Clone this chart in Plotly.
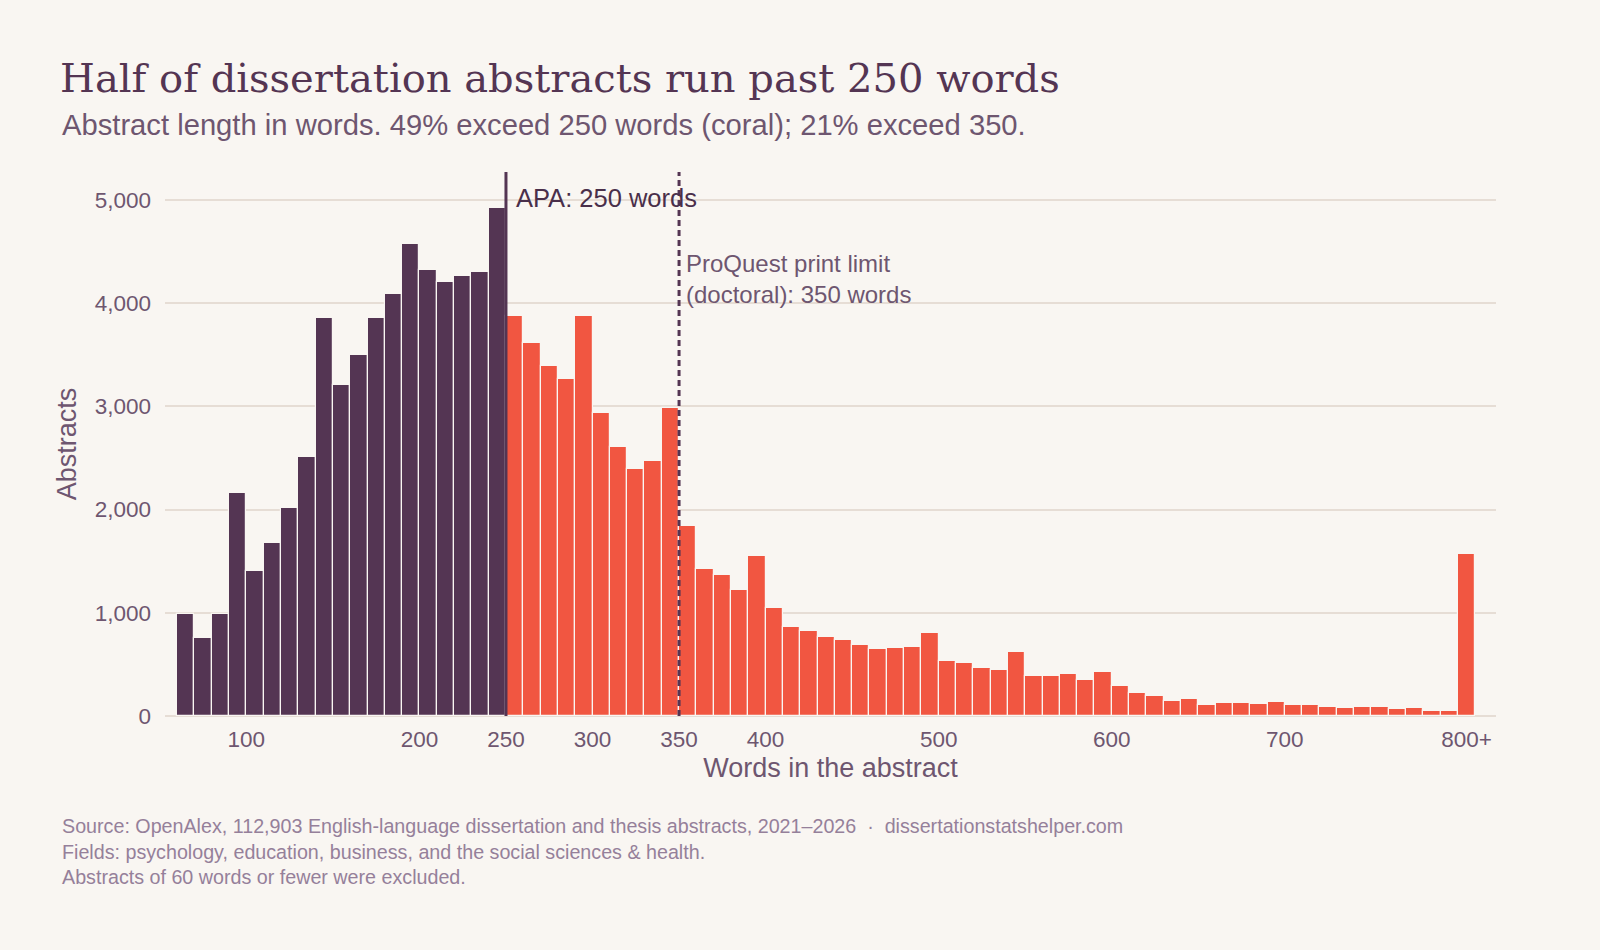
import plotly.graph_objects as go

# histogram of abstract length, bins of 10 words starting at 60 (last bin = 800+)
bin_start = list(range(60, 810, 10))
counts = [990, 754, 984, 2158, 1400, 1675, 2016, 2507, 3853, 3210,
          3495, 3853, 4090, 4574, 4317, 4205, 4259, 4300, 4922,   # 60-240
          3873, 3616, 3390, 3265, 3873, 2933, 2602, 2395, 2470, 2980,  # 250-340
          1844, 1428, 1370, 1221, 1553, 1049, 859, 822, 765, 737,      # 350-440
          690, 653, 658, 668, 800, 535, 516, 468, 449, 620,            # 450-540
          392, 392, 411, 345, 430, 288, 222, 193, 146, 165,            # 550-640
          108, 127, 127, 117, 136, 108, 108, 89, 79, 89,               # 650-740
          89, 70, 79, 51, 51, 1570]                                    # 750-800+

tick_vals = [100, 200, 250, 300, 350, 400, 500, 600, 700, 805]
tick_text = ["100", "200", "250", "300", "350", "400", "500", "600", "700", "800+"]

BG = "#f9f6f2"
DARK = "#543553"
CORAL = "#f15641"
GRID = "#e6ddd5"
TXT = "#6e5670"
FOOT = "#95809a"
SANS = "Liberation Sans, Arial, sans-serif"

colors = [DARK if b < 250 else CORAL for b in bin_start]
centers = [b + 5 for b in bin_start]

fig = go.Figure()
fig.add_trace(go.Bar(x=centers, y=counts, width=10, marker_color=colors,
                     marker_line_color=BG, marker_line_width=1.2,
                     hovertemplate="%{x}: %{y:,}<extra></extra>"))

# APA and ProQuest reference lines
fig.add_shape(type="line", x0=250, x1=250, y0=0, y1=1, yref="paper",
              line=dict(color=DARK, width=3))
fig.add_shape(type="line", x0=350, x1=350, y0=0, y1=1, yref="paper",
              line=dict(color=DARK, width=3, dash="6px,4px"))

fig.add_annotation(x=250, xshift=8, y=5020, text="APA: 250 words", showarrow=False,
                   xanchor="left", yanchor="middle",
                   font=dict(family=SANS, size=25.5, color="#4a2f4a"))
fig.add_annotation(x=350, xshift=5, y=4235, text="ProQuest print limit<br>(doctoral): 350 words",
                   showarrow=False, xanchor="left", yanchor="middle", align="left",
                   font=dict(family=SANS, size=24, color=TXT))

# subtitle + footer
fig.add_annotation(xref="paper", yref="paper", x=-0.0789, y=1.0, yshift=47,
                   text="Abstract length in words. 49% exceed 250 words (coral); 21% exceed 350.",
                   showarrow=False, xanchor="left", yanchor="middle",
                   font=dict(family=SANS, size=29.2, color=TXT))
fig.add_annotation(xref="paper", yref="paper", x=-0.0789, y=0, yshift=-135,
                   text="Source: OpenAlex, 112,903 English-language dissertation and thesis abstracts, 2021\u20132026  \u00b7  dissertationstatshelper.com"
                        "<br>Fields: psychology, education, business, and the social sciences & health."
                        "<br>Abstracts of 60 words or fewer were excluded.",
                   showarrow=False, xanchor="left", yanchor="middle", align="left",
                   font=dict(family=SANS, size=19.7, color=FOOT))

fig.update_layout(
    width=1600, height=950,
    paper_bgcolor=BG, plot_bgcolor=BG,
    margin=dict(l=165, r=104, t=172, b=234),
    showlegend=False, bargap=0,
    title=dict(text="Half of dissertation abstracts run past 250 words",
               x=60 / 1600, xanchor="left", xref="container",
               y=1 - 78 / 950, yanchor="middle", yref="container",
               font=dict(family="DejaVu Serif, Georgia, serif", size=40, color=DARK)),
    xaxis=dict(range=[53, 822], tickvals=tick_vals, ticktext=tick_text,
               showgrid=False, zeroline=False, showline=False, ticks="",
               ticklabelstandoff=7,
               tickfont=dict(family=SANS, size=22.5, color=TXT),
               title=dict(text="Words in the abstract", standoff=7,
                          font=dict(family=SANS, size=27, color=TXT))),
    yaxis=dict(range=[0, 5270], tickvals=[0, 1000, 2000, 3000, 4000, 5000],
               tickformat=",", showgrid=True, gridcolor=GRID, gridwidth=2,
               zeroline=True, zerolinecolor=GRID, zerolinewidth=2,
               showline=False, ticks="", ticklabelstandoff=13,
               tickfont=dict(family=SANS, size=22.5, color=TXT),
               title=dict(text="Abstracts", standoff=10,
                          font=dict(family=SANS, size=27, color=TXT))),
)

fig.write_html("out.html", config={"displayModeBar": False},
               post_script="document.body.style.margin='0';"
                           "document.body.style.background='" + BG + "';")
